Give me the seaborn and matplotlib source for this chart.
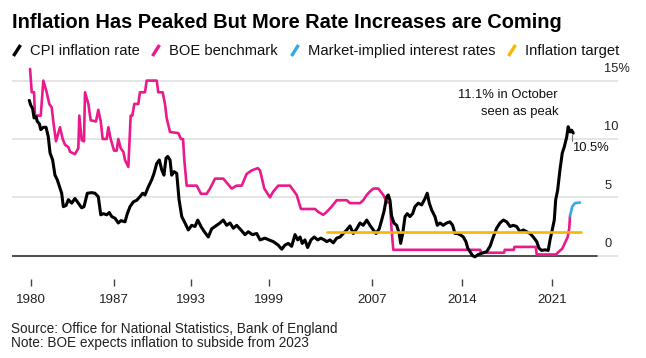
import numpy as np
import pandas as pd
import matplotlib
matplotlib.use("Agg")
import matplotlib.pyplot as plt
import matplotlib.transforms as mtransforms
from matplotlib.lines import Line2D
import seaborn as sns

# values (decimal year, percent)
cpi_years = [1980.44, 1980.55, 1980.70, 1980.81, 1980.97, 1981.06, 1981.22, 1981.33, 1981.53, 1981.74,
             1981.91, 1982.05, 1982.25, 1982.43, 1982.61, 1982.82, 1982.95, 1983.08, 1983.29, 1983.47,
             1983.73, 1983.98, 1984.24, 1984.50, 1984.68, 1984.94, 1985.28, 1985.53, 1985.79, 1985.98,
             1986.18, 1986.44, 1986.64, 1986.83, 1987.09, 1987.34, 1987.55, 1987.86, 1988.04, 1988.25,
             1988.50, 1988.77, 1989.02, 1989.23, 1989.41, 1989.67, 1989.93, 1990.11, 1990.32, 1990.52,
             1990.71, 1990.88, 1991.04, 1991.17, 1991.35, 1991.48, 1991.66, 1991.87, 1992.05, 1992.26,
             1992.51, 1992.77, 1993.03, 1993.29, 1993.50, 1993.75, 1994.01, 1994.32, 1994.58, 1994.97,
             1995.22, 1995.48, 1995.74, 1996.00, 1996.26, 1996.52, 1996.85, 1997.16, 1997.42, 1997.73,
             1998.07, 1998.33, 1998.71, 1999.02, 1999.36, 1999.74, 2000.01, 2000.26, 2000.52, 2000.78,
             2001.04, 2001.25, 2001.43, 2001.60, 2001.81, 2002.02, 2002.28, 2002.53, 2002.80, 2003.05,
             2003.31, 2003.50, 2003.75, 2004.01, 2004.27, 2004.53, 2004.78, 2005.05, 2005.30, 2005.56,
             2005.82, 2006.08, 2006.33, 2006.60, 2006.85, 2007.11, 2007.32, 2007.57, 2007.76, 2007.94,
             2008.15, 2008.27, 2008.40, 2008.53, 2008.71, 2008.92, 2009.12, 2009.23, 2009.39, 2009.57,
             2009.74, 2009.95, 2010.16, 2010.34, 2010.60, 2010.86, 2011.12, 2011.29, 2011.45, 2011.64,
             2011.89, 2012.07, 2012.28, 2012.53, 2012.80, 2013.05, 2013.26, 2013.44, 2013.62, 2013.83,
             2014.09, 2014.29, 2014.43, 2014.60, 2014.81, 2014.99, 2015.25, 2015.51, 2015.90, 2016.16,
             2016.41, 2016.67, 2016.93, 2017.19, 2017.45, 2017.71, 2017.96, 2018.22, 2018.48, 2018.74,
             2019.00, 2019.26, 2019.51, 2019.78, 2019.95, 2020.16, 2020.42, 2020.67, 2020.81, 2020.98,
             2021.14, 2021.25, 2021.40, 2021.58, 2021.76, 2021.91, 2022.10, 2022.22, 2022.36, 2022.49,
             2022.61]
cpi_values = [13.3, 12.9, 12.6, 11.8, 11.9, 11.5, 11.3, 10.8, 11.0, 11.0,
              10.2, 8.8, 8.2, 6.9, 6.5, 5.8, 5.35, 4.2, 4.3, 4.8,
              4.5, 4.9, 4.5, 4.1, 4.2, 5.35, 5.4, 5.35, 5.05, 3.5,
              3.6, 3.5, 3.7, 3.35, 3.2, 2.8, 3.0, 2.9, 3.6, 4.2,
              4.6, 4.75, 5.05, 5.35, 5.2, 5.9, 6.5, 7.05, 7.9, 8.2,
              7.35, 6.9, 8.35, 8.5, 8.2, 6.9, 7.2, 7.05, 4.8, 3.35,
              2.8, 2.2, 2.6, 2.5, 3.05, 2.5, 2.05, 1.6, 2.3, 2.6,
              2.8, 3.05, 2.6, 2.8, 2.35, 2.6, 2.2, 1.8, 2.05, 1.8,
              1.9, 1.35, 1.5, 1.35, 1.2, 0.9, 0.55, 0.9, 1.05, 0.8,
              1.8, 1.35, 1.6, 1.05, 1.35, 0.7, 1.35, 1.6, 1.35, 1.5,
              1.35, 1.2, 1.35, 1.1, 1.5, 1.6, 1.9, 2.2, 2.55, 1.9,
              2.3, 2.8, 2.6, 3.05, 2.6, 2.2, 1.9, 2.3, 3.05, 3.8,
              5.05, 5.2, 4.75, 3.4, 2.8, 2.6, 1.9, 1.05, 1.9, 3.35,
              3.6, 3.35, 3.6, 4.2, 4.5, 4.35, 4.9, 5.35, 4.5, 3.9,
              3.35, 2.6, 2.8, 2.6, 2.8, 2.9, 2.6, 1.9, 1.9, 1.8,
              1.6, 1.2, 0.65, 0.35, 0.0, -0.1, 0.1, 0.2, 0.35, 0.8,
              1.6, 2.35, 2.8, 3.05, 2.9, 2.5, 2.6, 2.5, 2.05, 2.2,
              2.05, 1.9, 1.6, 1.2, 0.65, 0.45, 0.5, 0.45, 1.35, 2.2,
              3.05, 4.8, 5.6, 7.35, 8.8, 9.3, 10.15, 11.05, 10.6, 10.75,
              10.5]

boe_years = [1980.50, 1980.63, 1980.81, 1980.88, 1981.33, 1981.53, 1981.79, 1981.99, 1982.18, 1982.30,
             1982.51, 1982.82, 1983.03, 1983.21, 1983.47, 1983.60, 1983.98, 1984.24, 1984.32, 1984.50,
             1984.68, 1984.76, 1985.02, 1985.20, 1985.61, 1985.79, 1985.98, 1986.13, 1986.44, 1986.57,
             1986.75, 1987.01, 1987.22, 1987.34, 1987.53, 1987.73, 1987.86, 1988.12, 1988.30, 1988.43,
             1988.58, 1988.89, 1989.02, 1989.41, 1989.54, 1990.32, 1990.44, 1990.78, 1990.96, 1991.09,
             1991.35, 1991.99, 1992.20, 1992.36, 1992.46, 1992.64, 1993.42, 1993.75, 1994.19, 1994.45,
             1994.84, 1995.48, 1996.13, 1996.52, 1996.91, 1997.29, 1997.68, 1998.15, 1998.33, 1998.66,
             1999.10, 1999.36, 1999.74, 2000.65, 2001.17, 2001.50, 2002.59, 2002.84, 2003.23, 2003.50,
             2003.88, 2004.27, 2005.05, 2005.30, 2006.08, 2006.33, 2006.60, 2006.85, 2007.11, 2007.50,
             2007.88, 2008.15, 2008.40, 2008.53, 2008.66, 2015.40, 2015.45, 2017.25, 2017.30, 2018.00,
             2018.05, 2019.70, 2019.78, 2021.30, 2021.40, 2021.76, 2021.97, 2022.18, 2022.30, 2022.36]
boe_values = [16.0, 14.0, 14.0, 12.0, 12.0, 15.0, 14.0, 13.0, 12.7, 11.5,
              9.8, 11.0, 10.0, 9.5, 9.3, 8.9, 8.7, 9.2, 12.0, 9.9,
              9.8, 14.0, 13.0, 11.6, 11.5, 12.5, 11.5, 10.0, 10.0, 11.0,
              10.0, 9.0, 9.0, 10.0, 9.2, 8.9, 8.2, 7.6, 12.0, 12.0,
              13.0, 13.0, 14.0, 14.0, 15.0, 15.0, 14.0, 14.0, 13.0, 11.8,
              10.6, 10.5, 10.0, 10.0, 8.2, 6.0, 6.0, 5.3, 5.3, 5.75,
              6.6, 6.6, 5.75, 6.0, 6.0, 7.0, 7.3, 7.5, 7.3, 5.75,
              5.0, 5.5, 6.0, 6.0, 5.2, 4.0, 4.0, 3.75, 3.5, 3.75,
              4.2, 4.75, 4.75, 4.5, 4.5, 4.75, 5.2, 5.5, 5.75, 5.75,
              5.2, 4.6, 4.5, 2.2, 0.5, 0.5, 0.25, 0.25, 0.5, 0.5,
              0.75, 0.75, 0.1, 0.1, 0.25, 0.6, 1.1, 1.6, 2.35, 3.4]

market_years = [2022.36, 2022.53, 2022.74, 2023.13]
market_values = [3.4, 4.2, 4.5, 4.55]

target_years = [2003.5, 2023.2]
target_values = [2.0, 2.0]

tick_years = [1980.6, 1987, 1993, 1999, 2007, 2014, 2021]
tick_labels = ['1980', '1987', '1993', '1999', '2007', '2014', '2021']
y_ticks = [0, 5, 10, 15]
y_labels = ['0', '5', '10', '15%']

legend_names = ['CPI inflation rate', 'BOE benchmark', 'Market-implied interest rates', 'Inflation target']

black = '#000000'
pink = '#ea1a8c'
blue = '#33a9e6'
yellow = '#f6b800'
legend_colors = [black, pink, blue, yellow]

sns.set_theme(style='white')
plt.rcParams['font.family'] = ['Liberation Sans', 'DejaVu Sans']

W, H = 646, 358
fig = plt.figure(figsize=(W / 100, H / 100), dpi=100)
ax = fig.add_axes([12 / W, 1 - 279 / H, 606 / W, (279 - 63.1) / H])

cpi = pd.DataFrame({'year': cpi_years, 'value': cpi_values})
boe = pd.DataFrame({'year': boe_years, 'value': boe_values})
market = pd.DataFrame({'year': market_years, 'value': market_values})
target = pd.DataFrame({'year': target_years, 'value': target_values})

sns.lineplot(data=boe, x='year', y='value', color=pink, linewidth=1.9, estimator=None, sort=False, ax=ax, zorder=3)
sns.lineplot(data=cpi, x='year', y='value', color=black, linewidth=2.2, estimator=None, sort=False, ax=ax, zorder=4)
sns.lineplot(data=target, x='year', y='value', color=yellow, linewidth=1.9, estimator=None, sort=False, ax=ax, zorder=5)
sns.lineplot(data=market, x='year', y='value', color=blue, linewidth=1.9, estimator=None, sort=False, ax=ax, zorder=5)

ax.set_xlim(1979.10, 2026.08)
ax.set_ylim(-2, 16.5)
ax.set_xlabel('')
ax.set_ylabel('')
for s in ax.spines.values():
    s.set_visible(False)

# grid + zero line
ax.set_yticks(y_ticks, y_labels)
ax.yaxis.tick_right()
ax.grid(axis='y', color='#e0e0e0', linewidth=1.2)
ax.grid(axis='x', visible=False)
ax.axhline(0, xmin=0, xmax=585 / 606, color='#333333', linewidth=1.2, zorder=2)
ax.tick_params(axis='y', right=False, left=False, length=0, pad=-10, labelsize=9.3, labelcolor='#222222')
shift = mtransforms.ScaledTranslation(0, 0.13, fig.dpi_scale_trans)
for lab in ax.get_yticklabels():
    lab.set_transform(lab.get_transform() + shift)

ax.set_xticks(tick_years, tick_labels)
ax.tick_params(axis='x', bottom=True, direction='out', length=5, width=1, color='#444444',
               pad=6, labelsize=9.6, labelcolor='#222222')

# annotations
ax.text(2021.43, 13.77, '11.1% in October', ha='right', va='center', fontsize=9.4, color='#111111')
ax.text(2021.43, 12.34, 'seen as peak', ha='right', va='center', fontsize=9.4, color='#111111')
ax.plot([2022.49, 2022.49], [10.3, 9.8], color='#777777', linewidth=0.8, zorder=6)
ax.text(2022.51, 9.23, '10.5%', ha='left', va='center', fontsize=9.4, color='#111111')

# title and legend row
fig.text(12 / W, 1 - 28 / H, 'Inflation Has Peaked But More Rate Increases are Coming',
         fontsize=14.4, fontweight='bold', color='#000000', va='baseline')
icon_x = [17, 156, 295, 512]
for name, col, x in zip(legend_names, legend_colors, icon_x):
    fig.add_artist(Line2D([(x - 3.5) / W, (x + 3.5) / W], [1 - 56 / H, 1 - 45 / H],
                          transform=fig.transFigure, color=col, linewidth=2.4, solid_capstyle='butt'))
    fig.text((x + 13) / W, 1 - 55 / H, name, fontsize=10.6, color='#111111', va='baseline')

# footnotes
fig.text(11 / W, 1 - 333 / H, 'Source: Office for National Statistics, Bank of England',
         fontsize=9.8, color='#222222', va='baseline')
fig.text(11 / W, 1 - 347 / H, 'Note: BOE expects inflation to subside from 2023',
         fontsize=9.8, color='#222222', va='baseline')

fig.savefig('out.png', dpi=100)
